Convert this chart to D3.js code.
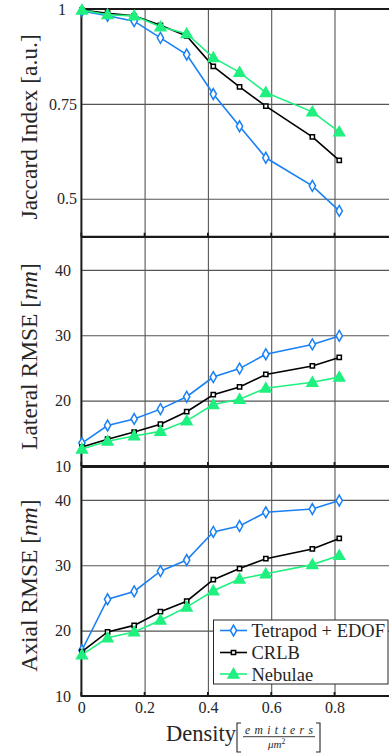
<!DOCTYPE html>
<html>
<head>
<meta charset="utf-8">
<script src="https://cdn.jsdelivr.net/npm/d3@7"></script>
<style>
html,body{margin:0;padding:0;background:#fff;}
svg{display:block;}
svg text{font-family:"Liberation Serif","Times New Roman",serif !important;}
</style>
</head>
<body>
<svg id="chart" width="389" height="753" font-family="Liberation Serif, serif"></svg>
<script>
// ---------- data ----------
const density = [0.002, 0.083, 0.167, 0.25, 0.333, 0.417, 0.5, 0.583, 0.73, 0.815];
const seriesNames = ["Tetrapod + EDOF", "CRLB", "Nebulae"];
const jaccardTetrapod = [0.995, 0.982, 0.968, 0.924, 0.880, 0.776, 0.691, 0.608, 0.534, 0.468];
const jaccardCRLB     = [0.997, 0.989, 0.982, 0.957, 0.929, 0.849, 0.795, 0.744, 0.663, 0.601];
const jaccardNebulae  = [0.997, 0.985, 0.982, 0.953, 0.935, 0.872, 0.833, 0.780, 0.729, 0.676];
const lateralTetrapod = [13.5, 16.2, 17.2, 18.7, 20.6, 23.6, 24.9, 27.1, 28.6, 29.9];
const lateralCRLB     = [12.9, 14.1, 15.2, 16.4, 18.3, 20.9, 22.1, 24.0, 25.3, 26.6];
const lateralNebulae  = [12.6, 13.8, 14.6, 15.3, 16.9, 19.4, 20.2, 21.9, 22.8, 23.6];
const axialTetrapod   = [17.0, 24.8, 26.0, 29.1, 30.8, 35.1, 36.0, 38.1, 38.6, 39.9];
const axialCRLB       = [16.8, 19.8, 20.8, 22.9, 24.5, 27.8, 29.5, 31.0, 32.5, 34.1];
const axialNebulae    = [16.3, 18.9, 19.8, 21.6, 23.6, 26.1, 27.9, 28.7, 30.1, 31.5];
const xTicks = [0, 0.2, 0.4, 0.6, 0.8, 1];
const jaccardTicks = [0.5, 0.75, 1];
const rmseTicks = [10, 20, 30, 40];

// ---------- styles ----------
const colors = ["#1a80f5", "#000000", "#1ff07f"];
const symbols = [d3.symbolDiamond, d3.symbolSquare, d3.symbolTriangle];
const symSizes = [34, 18, 50];
const symFill = ["#ffffff", "#ffffff", "#1ff07f"];

const svg = d3.select("#chart");
const left = 81.3, rightFull = 397.8;
const x = d3.scaleLinear().domain([0, 1]).range([left, rightFull]);

const panels = [
  {top: 9, bottom: 236.7, domain: [0.4, 1], ticks: jaccardTicks, fmt: d => d3.format("")(d),
   data: [jaccardTetrapod, jaccardCRLB, jaccardNebulae], labelRight: 77,
   label: [["Jaccard Index [a.u.]", false]], labelShift: 4},
  {top: 237.2, bottom: 466, domain: [10, 45], ticks: rmseTicks, fmt: d => d,
   data: [lateralTetrapod, lateralCRLB, lateralNebulae], labelRight: 71,
   label: [["Lateral RMSE ", false], ["[", false], ["nm", true], ["]", false]], labelShift: 5},
  {top: 467.2, bottom: 696, domain: [10, 45], ticks: rmseTicks, fmt: d => d,
   data: [axialTetrapod, axialCRLB, axialNebulae], labelRight: 71,
   label: [["Axial RMSE ", false], ["[", false], ["nm", true], ["]", false]], labelShift: 4}
];

panels.forEach((p, pi) => {
  const y = d3.scaleLinear().domain(p.domain).range([p.bottom, p.top]);
  const g = svg.append("g");

  // grid
  const gx = g.append("g").attr("transform", `translate(0,${p.bottom})`)
    .call(d3.axisBottom(x).tickValues(xTicks).tickSize(-(p.bottom - p.top)).tickFormat(""));
  gx.select(".domain").remove();
  gx.selectAll("line").attr("stroke", "#555").attr("stroke-width", 1.1);

  const gy = g.append("g").attr("transform", `translate(${left},0)`)
    .call(d3.axisLeft(y).tickValues(p.ticks).tickSize(-(rightFull - left)).tickFormat(""));
  gy.select(".domain").remove();
  gy.selectAll("line").attr("stroke", "#555").attr("stroke-width", 1.1);

  // y tick labels
  const gyl = g.append("g").attr("transform", `translate(${p.labelRight},0)`)
    .call(d3.axisLeft(y).tickValues(p.ticks).tickSize(0).tickPadding(0).tickFormat(p.fmt));
  gyl.select(".domain").remove();
  gyl.attr("font-family", null);
  gyl.selectAll("text").attr("font-size", 16).attr("fill", "#262626");
  if (pi === 0) {
    gyl.selectAll("text").filter(d => d === 1).attr("x", -11);
  }

  // frame
  g.append("line").attr("x1", left).attr("x2", 389).attr("y1", p.top).attr("y2", p.top)
    .attr("stroke", "#1a1a1a").attr("stroke-width", 1.8);
  g.append("line").attr("x1", left).attr("x2", 389).attr("y1", p.bottom).attr("y2", p.bottom)
    .attr("stroke", "#1a1a1a").attr("stroke-width", 1.8);
  g.append("line").attr("x1", left).attr("x2", left).attr("y1", p.top).attr("y2", p.bottom + 0.9)
    .attr("stroke", "#1a1a1a").attr("stroke-width", 1.8);

  // inward ticks at bottom
  xTicks.forEach(t => {
    g.append("line").attr("x1", x(t)).attr("x2", x(t)).attr("y1", p.bottom).attr("y2", p.bottom - 4)
      .attr("stroke", "#1a1a1a").attr("stroke-width", 1.8);
  });

  // y label
  const yl = g.append("text")
    .attr("transform", `translate(37,${(p.top + p.bottom) / 2 + p.labelShift}) rotate(-90)`)
    .attr("text-anchor", "middle").attr("font-size", 23.5).attr("fill", "#262626");
  p.label.forEach(([s, it]) => {
    yl.append("tspan").text(s).attr("font-style", it ? "italic" : "normal");
  });

  // series
  const line = d3.line().x((d, i) => x(density[i])).y(d => y(d));
  p.data.forEach((vals, si) => {
    g.append("path").datum(vals).attr("d", line).attr("fill", "none")
      .attr("stroke", colors[si]).attr("stroke-width", 1.6);
  });
  p.data.forEach((vals, si) => {
    g.selectAll(null).data(vals).enter().append("path")
      .attr("transform", (d, i) => `translate(${x(density[i])},${y(d) + (si === 2 ? 0.8 : 0)})`)
      .attr("d", d3.symbol().type(symbols[si]).size(symSizes[si]))
      .attr("fill", symFill[si]).attr("stroke", colors[si]).attr("stroke-width", 1.5);
  });
});

// x tick labels (bottom panel)
const bottom = panels[2].bottom;
const gxl = svg.append("g").attr("transform", `translate(0,${bottom})`)
  .call(d3.axisBottom(x).tickValues([0, 0.2, 0.4, 0.6, 0.8]).tickSize(0).tickPadding(6)
    .tickFormat(d => d3.format("")(d)));
gxl.select(".domain").remove();
gxl.attr("font-family", null);
gxl.selectAll("text").attr("font-size", 16).attr("fill", "#262626");

// x axis label
svg.append("text").attr("x", 166).attr("y", 741).attr("font-size", 22.5).attr("fill", "#262626")
  .text("Density");
const br = (x0, dir) => `M${x0 + 4 * dir},723 H${x0} V752 H${x0 + 4 * dir}`;
svg.append("path").attr("d", br(237, 1)).attr("fill", "none").attr("stroke", "#262626").attr("stroke-width", 1.1);
svg.append("path").attr("d", br(320, -1)).attr("fill", "none").attr("stroke", "#262626").attr("stroke-width", 1.1);
svg.append("text").attr("x", 245).attr("y", 733.5).attr("font-size", 11.5).attr("font-style", "italic")
  .attr("fill", "#262626").attr("textLength", 68).attr("lengthAdjust", "spacing").text("emitters");
svg.append("line").attr("x1", 243).attr("x2", 315).attr("y1", 736.7).attr("y2", 736.7)
  .attr("stroke", "#262626").attr("stroke-width", 0.9);
const mu = svg.append("text").attr("x", 268).attr("y", 748).attr("font-size", 11).attr("font-style", "italic")
  .attr("fill", "#262626");
mu.append("tspan").text("μm");
mu.append("tspan").text("2").attr("font-size", 7.5).attr("dy", -4.5).attr("font-style", "normal");

// legend
const lg = svg.append("g");
lg.append("rect").attr("x", 213.5).attr("y", 620).attr("width", 174.5).attr("height", 64)
  .attr("fill", "#fff").attr("stroke", "#262626").attr("stroke-width", 1);
const rowY = [630.5, 652.5, 674];
seriesNames.forEach((name, si) => {
  lg.append("line").attr("x1", 220).attr("x2", 247).attr("y1", rowY[si]).attr("y2", rowY[si])
    .attr("stroke", colors[si]).attr("stroke-width", 1.6);
  lg.append("path").attr("transform", `translate(233.5,${rowY[si] + (si === 2 ? 0.8 : 0)})`)
    .attr("d", d3.symbol().type(symbols[si]).size(symSizes[si]))
    .attr("fill", symFill[si]).attr("stroke", colors[si]).attr("stroke-width", 1.5);
  lg.append("text").attr("x", 251.5).attr("y", rowY[si] + 6.5).attr("font-size", 18.5)
    .attr("fill", "#262626").text(name);
});
</script>
</body>
</html>
